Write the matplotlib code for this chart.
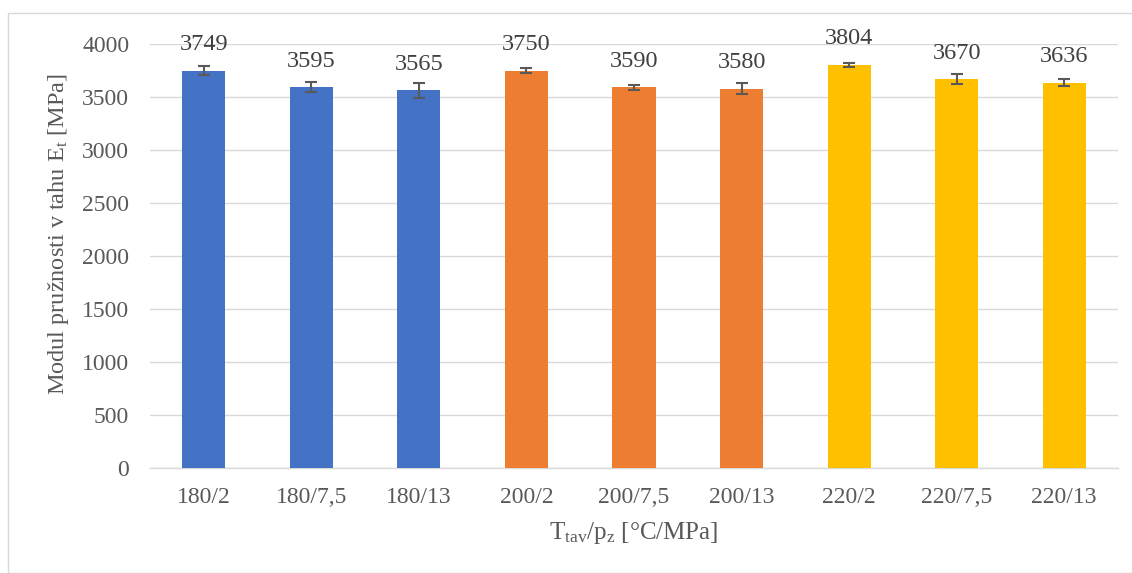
import matplotlib
matplotlib.use("Agg")
import matplotlib.pyplot as plt
from matplotlib.patches import Rectangle

categories = ["180/2", "180/7,5", "180/13", "200/2", "200/7,5", "200/13", "220/2", "220/7,5", "220/13"]
values = [3749, 3595, 3565, 3750, 3590, 3580, 3804, 3670, 3636]
errors = [40, 47, 70, 24, 25, 54, 21, 44, 36]
colors = ["#4472C4"] * 3 + ["#ED7D31"] * 3 + ["#FFC000"] * 3

plt.rcParams['font.family'] = ['Liberation Serif', 'DejaVu Serif']
plt.rcParams['mathtext.fontset'] = 'custom'
plt.rcParams['mathtext.rm'] = 'Liberation Serif'
plt.rcParams['mathtext.it'] = 'Liberation Serif:italic'

W, H = 1132, 573
fig = plt.figure(figsize=(W / 100, H / 100), dpi=100)
ax = fig.add_axes([150 / W, 1 - 468 / H, (1118 - 150) / W, (468 - 44) / H])

x = range(len(categories))
ax.bar(x, values, width=0.4, color=colors, zorder=3,
       yerr=errors, error_kw=dict(ecolor="#595959", elinewidth=1.5, capsize=4.5, capthick=1.5, zorder=4))

for xi, v in zip(x, values):
    ax.annotate(str(v), (xi, v), xytext=(0, 11), textcoords="offset points",
                ha="center", va="bottom", fontsize=17.5, color="#404040")

ax.set_xlim(-0.5, len(categories) - 0.5)
ax.set_ylim(0, 4000)
ax.set_yticks(range(0, 4001, 500))
ax.set_xticks(list(x))
ax.set_xticklabels(categories)
ax.grid(axis="y", color="#D9D9D9", linewidth=1, zorder=0)
for s in ["top", "right", "left"]:
    ax.spines[s].set_visible(False)
ax.spines["bottom"].set_color("#D9D9D9")
ax.spines["bottom"].set_linewidth(1)
ax.tick_params(axis="both", length=0, labelsize=17, labelcolor="#595959")
ax.tick_params(axis="x", pad=14)
ax.tick_params(axis="y", pad=15)

ax.set_ylabel(r"Modul pružnosti v tahu E$_\mathrm{t}$ [MPa]", fontsize=17.5, color="#595959")
ax.set_xlabel(r"T$_\mathrm{tav}$/p$_\mathrm{z}$ [°C/MPa]", fontsize=18, color="#595959")
ax.yaxis.set_label_coords(-(150 - 71) / (1118 - 150), (468 - 234) / (468 - 44))
ax.xaxis.set_label_coords(0.5, -(520 - 468) / (468 - 44))

fig.patches.append(Rectangle((8 / W, 0), 1.2, 1 - 13 / H, transform=fig.transFigure,
                             fill=False, edgecolor="#D9D9D9", linewidth=1))

fig.savefig("out.png", dpi=100)
